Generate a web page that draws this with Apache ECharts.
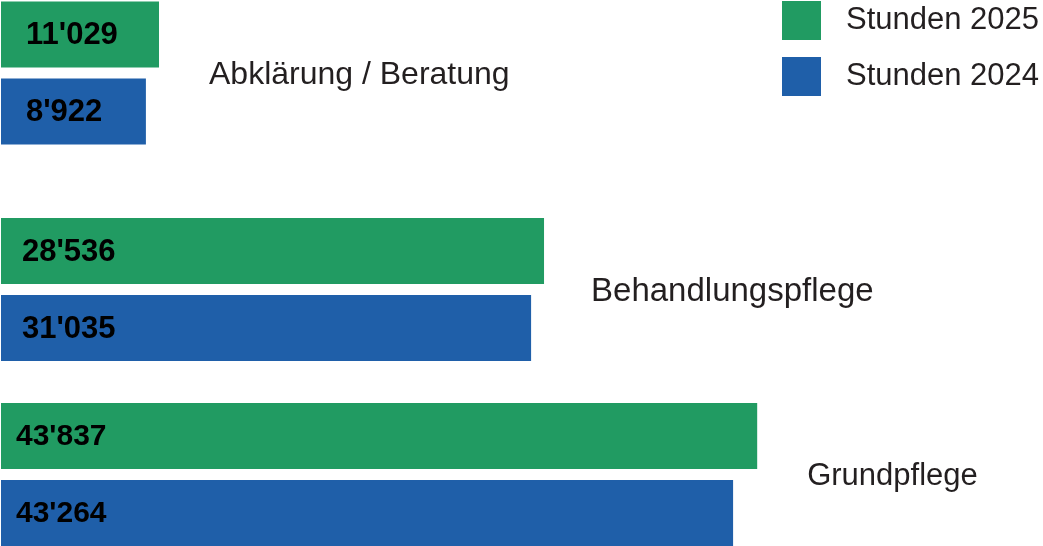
<!DOCTYPE html>
<html>
<head>
<meta charset="utf-8">
<script src="https://cdn.jsdelivr.net/npm/echarts@6/dist/echarts.min.js"></script>
<style>
  html, body { margin: 0; padding: 0; background: #ffffff; }
  #chart { width: 1043px; height: 546px; }
</style>
</head>
<body>
<div id="chart"></div>
<script>
// ---- data ----
const categories = ['Abklärung / Beratung', 'Behandlungspflege', 'Grundpflege'];
const seriesNames = ['Stunden 2025', 'Stunden 2024'];
// hours shown as labels
const hours2025 = [11029, 28536, 43837];
const hours2024 = [8922, 31035, 43264];
// bar lengths as drawn in the source graphic (the source is not to scale with its labels)
const barLen2025 = [9160, 31480, 43837];
const barLen2024 = [8400, 30730, 42440];

// ---- presentation ----
const colors = ['#219b62', '#1f5fa9'];
const groupTop = [1, 218, 403];
const groupHeight = [144, 143, 143];
const labelInset = [25, 21, 15];
const valueFontSize = [31, 31, 30];
const catFontSize = [32, 33, 31];
const catDistance = [50, 47, 50];
const xMax = 60000;

function fmt(n) {
  return String(n).replace(/\B(?=(\d{3})+(?!\d))/g, "'");
}

const grids = [], xAxes = [], yAxes = [], series = [];
categories.forEach((cat, i) => {
  grids.push({ left: 1, width: 1035, top: groupTop[i], height: groupHeight[i] });
  xAxes.push({ gridIndex: i, type: 'value', min: 0, max: xMax, show: false });
  yAxes.push({ gridIndex: i, type: 'category', data: [cat], inverse: true, show: false });
  const vals = [barLen2025[i], barLen2024[i]];
  const labs = [hours2025[i], hours2024[i]];
  seriesNames.forEach((name, s) => {
    series.push({
      name: name,
      type: 'bar',
      xAxisIndex: i,
      yAxisIndex: i,
      data: [vals[s]],
      barWidth: 66,
      barGap: '16.7%',
      itemStyle: { color: colors[s] },
      silent: true,
      label: {
        show: true,
        position: 'insideLeft',
        distance: labelInset[i],
        offset: [0, 1],
        formatter: () => fmt(labs[s]),
        color: '#000000',
        fontFamily: 'Liberation Sans',
        fontWeight: 'bold',
        fontSize: valueFontSize[i],
        textBorderWidth: 0
      }
    });
  });
  // category label placed to the right of the longer bar
  series.push({
    name: 'cat' + i,
    type: 'scatter',
    xAxisIndex: i,
    yAxisIndex: i,
    data: [[Math.max(barLen2025[i], barLen2024[i]), 0]],
    symbolSize: 0,
    silent: true,
    label: {
      show: true,
      position: 'right',
      distance: catDistance[i],
      offset: [0, 2],
      formatter: () => cat,
      color: '#231f20',
      opacity: 1,
      textBorderWidth: 0,
      fontFamily: 'Liberation Sans',
      fontSize: catFontSize[i]
    }
  });
});

const chart = echarts.init(document.getElementById('chart'), null, { renderer: 'canvas' });
chart.setOption({
  animation: false,
  backgroundColor: '#ffffff',
  legend: {
    data: seriesNames,
    orient: 'vertical',
    left: 782,
    top: 1,
    padding: 0,
    icon: 'rect',
    itemWidth: 39,
    itemHeight: 39,
    itemGap: 17,
    selectedMode: false,
    textStyle: {
      color: '#231f20',
      fontFamily: 'Liberation Sans',
      fontSize: 31,
      padding: [0, 0, 0, 20]
    }
  },
  grid: grids,
  xAxis: xAxes,
  yAxis: yAxes,
  series: series
});
</script>
</body>
</html>
